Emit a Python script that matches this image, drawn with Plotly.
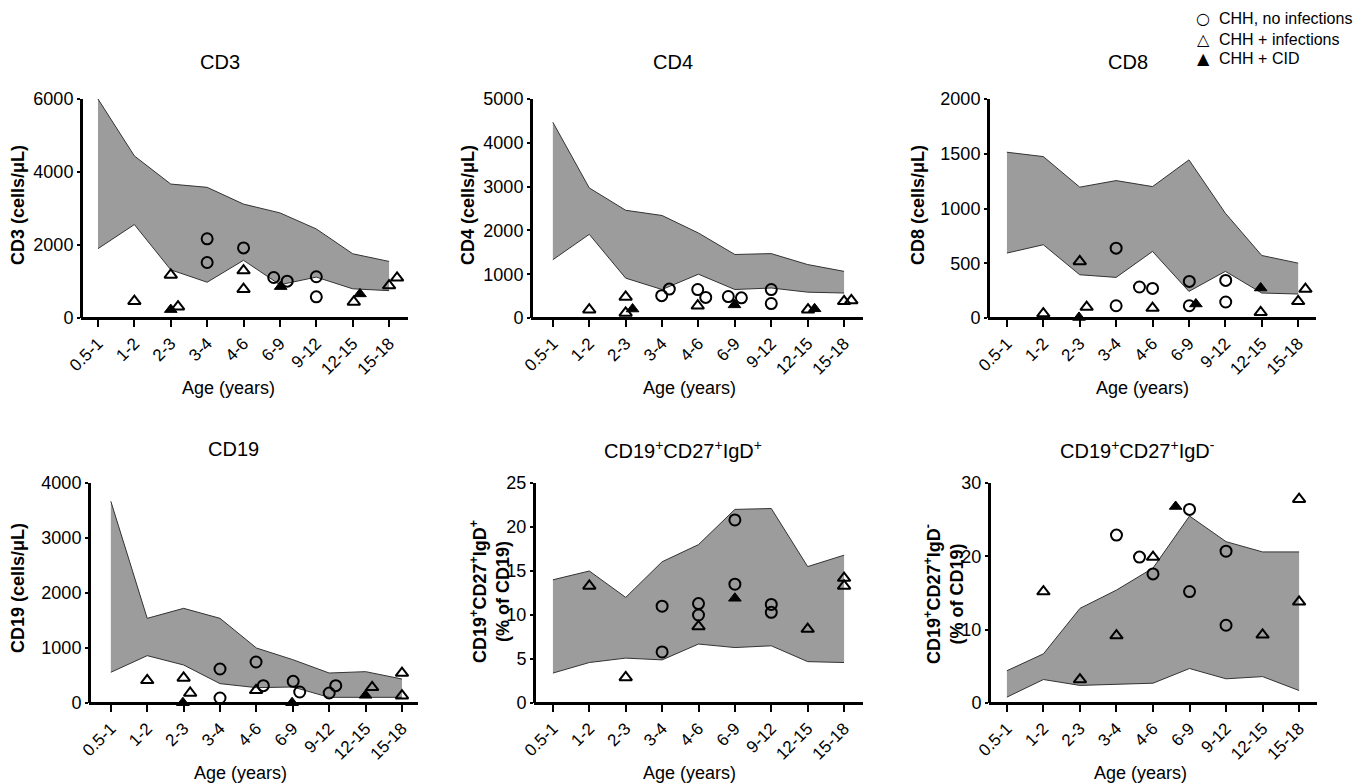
import plotly.graph_objects as go

WIN_W, WIN_H = 1363, 783
OFF = 8  # page body margin
W, H = WIN_W - OFF, WIN_H - OFF
FONT = "Liberation Sans, Arial, sans-serif"

age_labels = ["0.5-1", "1-2", "2-3", "3-4", "4-6", "6-9", "9-12", "12-15", "15-18"]
age_pos = list(range(len(age_labels)))

# ---------------- CD3 ----------------
cd3_upper = [6000, 4440, 3670, 3580, 3120, 2880, 2440, 1760, 1550]
cd3_lower = [1900, 2560, 1320, 980, 1580, 910, 1120, 800, 750]
cd3_noinf_x = [3.0, 3.0, 4.0, 4.83, 5.2, 6.0, 6.0]
cd3_noinf_y = [2170, 1520, 1920, 1110, 1010, 1130, 580]
cd3_inf_x = [1.0, 2.0, 2.2, 4.0, 4.0, 7.03, 8.0, 8.22]
cd3_inf_y = [460, 1180, 310, 1300, 790, 440, 890, 1100]
cd3_cid_x = [2.0, 5.02, 7.2]
cd3_cid_y = [230, 860, 660]

# ---------------- CD4 ----------------
cd4_upper = [4470, 2970, 2460, 2340, 1940, 1450, 1470, 1220, 1065]
cd4_lower = [1330, 1910, 910, 650, 1000, 650, 685, 590, 570]
cd4_noinf_x = [2.99, 3.2, 3.98, 4.2, 4.82, 5.18, 6.0, 6.0]
cd4_noinf_y = [510, 660, 650, 470, 490, 460, 650, 330]
cd4_inf_x = [1.0, 2.0, 2.0, 3.98, 7.01, 8.0, 8.2]
cd4_inf_y = [190, 480, 115, 280, 190, 380, 400]
cd4_cid_x = [2.19, 4.99, 7.19]
cd4_cid_y = [205, 300, 210]

# ---------------- CD8 ----------------
cd8_upper = [1514, 1474, 1195, 1255, 1200, 1444, 957, 571, 501]
cd8_lower = [593, 669, 395, 371, 608, 243, 426, 228, 219]
cd8_noinf_x = [3.0, 3.0, 3.64, 4.0, 5.01, 5.01, 6.01, 6.01]
cd8_noinf_y = [638, 112, 283, 270, 334, 112, 343, 146]
cd8_inf_x = [1.0, 2.0, 2.19, 4.0, 6.97, 8.0, 8.2]
cd8_inf_y = [40, 517, 100, 91, 52, 152, 264]
cd8_cid_x = [1.98, 5.19, 6.97]
cd8_cid_y = [5, 128, 274]

# ---------------- CD19 ----------------
cd19_upper = [3667, 1539, 1721, 1539, 1000, 788, 545, 570, 436]
cd19_lower = [558, 861, 691, 352, 279, 291, 103, 103, 103]
cd19_noinf_x = [3.0, 3.0, 3.99, 4.19, 5.01, 5.19, 6.0, 6.18]
cd19_noinf_y = [618, 91, 745, 315, 394, 200, 182, 315]
cd19_inf_x = [1.0, 2.0, 2.18, 3.99, 7.18, 8.0, 8.0]
cd19_inf_y = [412, 455, 182, 230, 285, 545, 133]
cd19_cid_x = [1.98, 4.98, 7.0]
cd19_cid_y = [5, 5, 140]

# ---------------- CD19+CD27+IgD+ ----------------
igdp_upper = [14.0, 15.0, 12.0, 16.05, 18.0, 22.0, 22.1, 15.5, 16.8]
igdp_lower = [3.4, 4.6, 5.1, 4.9, 6.7, 6.3, 6.5, 4.7, 4.6]
igdp_noinf_x = [3.0, 3.0, 4.0, 4.0, 5.0, 5.0, 6.0, 6.0]
igdp_noinf_y = [11.0, 5.8, 11.3, 10.0, 20.8, 13.5, 11.2, 10.3]
igdp_inf_x = [1.0, 2.0, 4.0, 7.0, 8.0, 8.0]
igdp_inf_y = [13.3, 2.9, 8.7, 8.4, 14.2, 13.3]
igdp_cid_x = [5.0]
igdp_cid_y = [11.9]

# ---------------- CD19+CD27+IgD- ----------------
igdn_upper = [4.4, 6.7, 12.9, 15.4, 18.4, 25.5, 22.0, 20.6, 20.6]
igdn_lower = [0.8, 3.2, 2.4, 2.6, 2.7, 4.7, 3.3, 3.6, 1.7]
igdn_noinf_x = [3.0, 3.63, 4.0, 5.0, 5.0, 6.0, 6.0]
igdn_noinf_y = [22.9, 19.9, 17.6, 26.4, 15.2, 20.7, 10.6]
igdn_inf_x = [1.0, 2.0, 3.0, 4.0, 7.0, 8.0, 8.0]
igdn_inf_y = [15.2, 3.2, 9.2, 19.9, 9.3, 27.8, 13.8]
igdn_cid_x = [4.62]
igdn_cid_y = [26.8]

group_names = ["CHH, no infections", "CHH + infections", "CHH + CID"]
legend_glyphs = ["○", "△", "▲"]

panels = [
    dict(title="CD3", ytitle="<b>CD3 (cells/μL)</b>", upper=cd3_upper, lower=cd3_lower,
         pts=[(cd3_noinf_x, cd3_noinf_y), (cd3_inf_x, cd3_inf_y), (cd3_cid_x, cd3_cid_y)],
         ymax=6000, dtick=2000, xpx=(81, 408), xr=(-0.467, 8.52), row=0,
         tpos=(220, 62), ypos=(18, 205), apos=(228, 388)),
    dict(title="CD4", ytitle="<b>CD4 (cells/μL)</b>", upper=cd4_upper, lower=cd4_lower,
         pts=[(cd4_noinf_x, cd4_noinf_y), (cd4_inf_x, cd4_inf_y), (cd4_cid_x, cd4_cid_y)],
         ymax=5000, dtick=1000, xpx=(531, 863), xr=(-0.60, 8.52), row=0,
         tpos=(673, 62), ypos=(468, 205), apos=(690, 388)),
    dict(title="CD8", ytitle="<b>CD8 (cells/μL)</b>", upper=cd8_upper, lower=cd8_lower,
         pts=[(cd8_noinf_x, cd8_noinf_y), (cd8_inf_x, cd8_inf_y), (cd8_cid_x, cd8_cid_y)],
         ymax=2000, dtick=500, xpx=(988, 1316), xr=(-0.52, 8.49), row=0,
         tpos=(1128, 62), ypos=(918, 205), apos=(1142, 388)),
    dict(title="CD19", ytitle="<b>CD19 (cells/μL)</b>", upper=cd19_upper, lower=cd19_lower,
         pts=[(cd19_noinf_x, cd19_noinf_y), (cd19_inf_x, cd19_inf_y), (cd19_cid_x, cd19_cid_y)],
         ymax=4000, dtick=1000, xpx=(89, 418), xr=(-0.60, 8.44), row=1,
         tpos=(233, 449), ypos=(18, 588), apos=(240, 773)),
    dict(title="CD19<sup>+</sup>CD27<sup>+</sup>IgD<sup>+</sup>",
         ytitle="<b>CD19<sup>+</sup>CD27<sup>+</sup>IgD<sup>+</sup><br>(% of CD19)</b>",
         upper=igdp_upper, lower=igdp_lower,
         pts=[(igdp_noinf_x, igdp_noinf_y), (igdp_inf_x, igdp_inf_y), (igdp_cid_x, igdp_cid_y)],
         ymax=25, dtick=5, xpx=(534, 863), xr=(-0.52, 8.52), row=1,
         tpos=(683, 449), ypos=(490, 592), apos=(690, 773)),
    dict(title="CD19<sup>+</sup>CD27<sup>+</sup>IgD<sup>-</sup>",
         ytitle="<b>CD19<sup>+</sup>CD27<sup>+</sup>IgD<sup>-</sup><br>(% of CD19)</b>",
         upper=igdn_upper, lower=igdn_lower,
         pts=[(igdn_noinf_x, igdn_noinf_y), (igdn_inf_x, igdn_inf_y), (igdn_cid_x, igdn_cid_y)],
         ymax=30, dtick=10, xpx=(989, 1317), xr=(-0.49, 8.49), row=1,
         tpos=(1137, 449), ypos=(944, 594), apos=(1140, 773)),
]

row_ypx = [(99, 318), (483, 703)]
legend_rows_px = [18, 39, 59]

def px_x(p):
    return (p - OFF) / W

def px_y(p):
    return 1 - (p - OFF) / H

marker_styles = [
    dict(symbol="circle-open", size=11, color="black", line=dict(width=2, color="black")),
    dict(symbol="triangle-up-open", size=11, color="black", line=dict(width=2, color="black")),
    dict(symbol="triangle-up", size=11, color="black", line=dict(width=1, color="black")),
]

fig = go.Figure()
annotations = []
layout = {}

for i, p in enumerate(panels):
    n = "" if i == 0 else str(i + 1)
    xa, ya = "x" + n, "y" + n
    top, bot = row_ypx[p["row"]]
    x0p, x1p = p["xpx"]
    layout["xaxis" + n] = dict(
        domain=[px_x(x0p), px_x(x1p)], range=list(p["xr"]),
        anchor="free", position=px_y(bot),
        tickmode="array", tickvals=age_pos, ticktext=age_labels, tickangle=-45,
        showline=True, linecolor="black", linewidth=3, ticks="outside", ticklen=7,
        tickwidth=2, tickcolor="black", showgrid=False, zeroline=False, automargin=False,
        tickfont=dict(family=FONT, size=17, color="black"),
    )
    layout["yaxis" + n] = dict(
        domain=[px_y(bot), px_y(top)], range=[0, p["ymax"]],
        anchor="free", position=px_x(x0p),
        tickmode="linear", tick0=0, dtick=p["dtick"],
        showline=True, linecolor="black", linewidth=3, ticks="outside", ticklen=3,
        tickwidth=2, tickcolor="black", showgrid=False, zeroline=False, automargin=False,
        tickfont=dict(family=FONT, size=18, color="black"),
    )
    fig.add_trace(go.Scatter(x=age_pos, y=p["lower"], mode="lines",
                             line=dict(color="#333333", width=1), xaxis=xa, yaxis=ya,
                             showlegend=False, hoverinfo="skip"))
    fig.add_trace(go.Scatter(x=age_pos, y=p["upper"], mode="lines", fill="tonexty",
                             fillcolor="#9c9c9c", line=dict(color="#333333", width=1),
                             xaxis=xa, yaxis=ya, showlegend=False, hoverinfo="skip"))
    for g, (gx, gy) in enumerate(p["pts"]):
        fig.add_trace(go.Scatter(x=gx, y=gy, mode="markers", marker=marker_styles[g],
                                 name=group_names[g], showlegend=False,
                                 xaxis=xa, yaxis=ya, cliponaxis=False))

    annotations.append(dict(text=p["title"], x=px_x(p["tpos"][0]), y=px_y(p["tpos"][1]),
                            xref="paper", yref="paper", showarrow=False,
                            xanchor="center", yanchor="middle",
                            font=dict(family=FONT, size=20, color="black")))
    annotations.append(dict(text=p["ytitle"], x=px_x(p["ypos"][0]), y=px_y(p["ypos"][1]),
                            xref="paper", yref="paper", showarrow=False, textangle=-90,
                            xanchor="center", yanchor="middle",
                            font=dict(family=FONT, size=18, color="black")))
    annotations.append(dict(text="Age (years)", x=px_x(p["apos"][0]), y=px_y(p["apos"][1]),
                            xref="paper", yref="paper", showarrow=False,
                            xanchor="center", yanchor="middle",
                            font=dict(family=FONT, size=18, color="black")))

for g, name in enumerate(group_names):
    annotations.append(dict(text=legend_glyphs[g],
                            x=px_x(1203), y=px_y(legend_rows_px[g]),
                            xref="paper", yref="paper", showarrow=False,
                            xanchor="center", yanchor="middle",
                            font=dict(family="DejaVu Sans", size=16, color="black")))
    annotations.append(dict(text=name,
                            x=px_x(1217), y=px_y(legend_rows_px[g]),
                            xref="paper", yref="paper", showarrow=False,
                            xanchor="left", yanchor="middle",
                            font=dict(family=FONT, size=16, color="black")))

fig.update_layout(
    template="none",
    width=W, height=H, margin=dict(l=0, r=0, t=0, b=0),
    showlegend=False,
    annotations=annotations,
    **layout,
)

fig.write_html("out.html")
